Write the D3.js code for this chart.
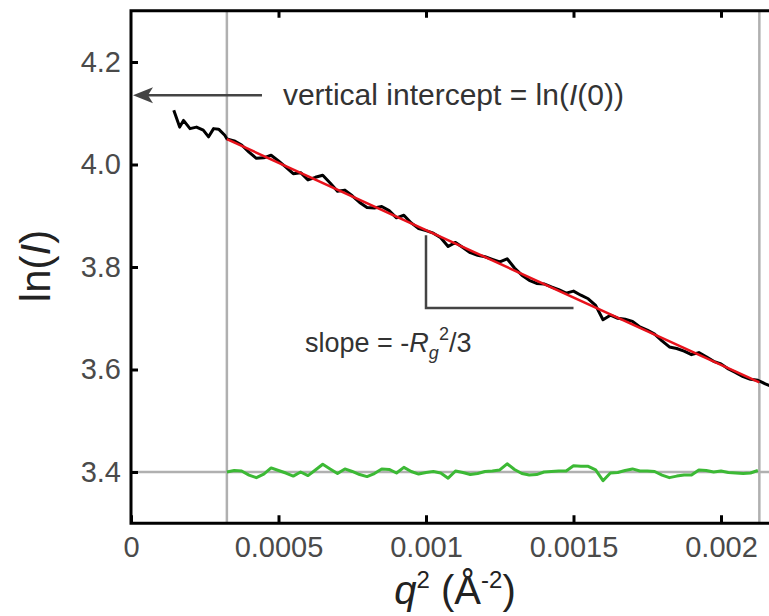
<!DOCTYPE html>
<html>
<head>
<meta charset="utf-8">
<script src="https://cdn.jsdelivr.net/npm/d3@7"></script>
<style>
  body { margin: 0; background: #fff; }
  text { font-family: "Liberation Sans", Arial, sans-serif; }
</style>
</head>
<body>
<svg class="guinier" width="769" height="616"></svg>
<script>
// data
var xTicks = [0, 0.0005, 0.001, 0.0015, 0.002];
var xTickLabels = ["0", "0.0005", "0.001", "0.0015", "0.002"];
var yTicks = [3.4, 3.6, 3.8, 4.0, 4.2];
var yTickLabels = ["3.4", "3.6", "3.8", "4.0", "4.2"];

// measured curve ln(I) vs q^2
var dataQ2 = [0.000145, 0.000165, 0.000178, 0.000200, 0.000222, 0.000245, 0.000263, 0.000280, 0.000297, 0.000318,
  0.000325, 0.000350, 0.000375, 0.000400, 0.000425, 0.000450, 0.000475, 0.000500, 0.000525, 0.000550,
  0.000575, 0.000600, 0.000625, 0.000650, 0.000675, 0.000700, 0.000725, 0.000750, 0.000775, 0.000800,
  0.000825, 0.000850, 0.000875, 0.000900, 0.000925, 0.000950, 0.000975, 0.001000, 0.001025, 0.001050,
  0.001075, 0.001100, 0.001125, 0.001150, 0.001175, 0.001200, 0.001225, 0.001250, 0.001275, 0.001300,
  0.001325, 0.001350, 0.001375, 0.001400, 0.001425, 0.001450, 0.001475, 0.001500, 0.001525, 0.001550,
  0.001575, 0.001600, 0.001625, 0.001650, 0.001675, 0.001700, 0.001725, 0.001750, 0.001775, 0.001800,
  0.001825, 0.001850, 0.001875, 0.001900, 0.001925, 0.001950, 0.001975, 0.002000, 0.002025, 0.002050,
  0.002075, 0.002100, 0.002125, 0.002150, 0.002175];
var dataLnI = [4.106, 4.073, 4.086, 4.070, 4.073, 4.067, 4.054, 4.070, 4.069, 4.057,
  4.050, 4.046, 4.038, 4.024, 4.012, 4.013, 4.018, 4.007, 3.995, 3.982,
  3.984, 3.970, 3.975, 3.979, 3.964, 3.948, 3.950, 3.939, 3.926, 3.916,
  3.915, 3.918, 3.910, 3.896, 3.901, 3.886, 3.875, 3.871, 3.866, 3.857,
  3.840, 3.848, 3.838, 3.828, 3.823, 3.820, 3.815, 3.810, 3.816, 3.798,
  3.784, 3.774, 3.768, 3.767, 3.761, 3.756, 3.749, 3.753, 3.745, 3.738,
  3.725, 3.697, 3.706, 3.700, 3.698, 3.694, 3.683, 3.677, 3.669, 3.656,
  3.644, 3.641, 3.636, 3.629, 3.633, 3.625, 3.616, 3.611, 3.601, 3.594,
  3.586, 3.581, 3.579, 3.572, 3.566];

// linear fit over the Guinier range
var fitQ2 = [0.000325, 0.00213];
var fitLnI = [4.0495, 3.5748];
var intercept = 4.135;

// residuals, offset to sit on 3.4
var residQ2 = dataQ2.slice(10, 83);
var residLnI = [3.400, 3.403, 3.402, 3.394, 3.389, 3.396, 3.408, 3.403, 3.398, 3.392,
  3.400, 3.393, 3.404, 3.415, 3.406, 3.397, 3.406, 3.401, 3.395, 3.391,
  3.397, 3.406, 3.405, 3.398, 3.409, 3.401, 3.396, 3.399, 3.401, 3.398,
  3.388, 3.402, 3.399, 3.395, 3.397, 3.401, 3.402, 3.404, 3.416, 3.405,
  3.397, 3.394, 3.395, 3.400, 3.401, 3.402, 3.402, 3.412, 3.411, 3.411,
  3.404, 3.383, 3.398, 3.399, 3.403, 3.406, 3.402, 3.402, 3.401, 3.394,
  3.389, 3.392, 3.394, 3.394, 3.404, 3.403, 3.400, 3.402, 3.399, 3.398,
  3.397, 3.398, 3.403];

var svg = d3.select(".guinier");

var x = d3.scaleLinear()
    .domain([0, 0.002])
    .range([131, 721]);

var y = d3.scaleLinear()
    .domain([3.4, 4.2])
    .range([472, 62]);

var xMax = 0.0022, yMin = 3.3, yMax = 4.3;

// grey reference lines
svg.append("line")
    .attr("x1", x(0)).attr("x2", x(xMax))
    .attr("y1", y(3.4)).attr("y2", y(3.4))
    .attr("stroke", "#b0b0b0").attr("stroke-width", 2.5);

[fitQ2[0], fitQ2[1]].forEach(function(q) {
  svg.append("line")
      .attr("x1", x(q)).attr("x2", x(q))
      .attr("y1", y(yMax)).attr("y2", y(yMin))
      .attr("stroke", "#b0b0b0").attr("stroke-width", 2.5);
});

// axes
var gLeft = svg.append("g")
    .attr("transform", "translate(" + x(0) + ",0)")
    .call(d3.axisLeft(y).tickValues(yTicks).tickSize(-7).tickPadding(10)
      .tickFormat(function(d, i) { return yTickLabels[i]; }));

var gBottom = svg.append("g")
    .attr("transform", "translate(0," + y(yMin) + ")")
    .call(d3.axisBottom(x).tickValues(xTicks).tickSize(-8).tickPadding(13)
      .tickFormat(function(d, i) { return xTickLabels[i]; }));

var gTop = svg.append("g")
    .attr("transform", "translate(0," + y(yMax) + ")")
    .call(d3.axisTop(x).tickValues(xTicks.slice(1)).tickSize(-7).tickFormat(""));

[gLeft, gBottom, gTop].forEach(function(g) {
  g.select(".domain").remove();
  g.selectAll(".tick line").attr("stroke", "#000").attr("stroke-width", 3);
  g.selectAll(".tick text")
      .attr("font-size", 29)
      .attr("fill", "#4a4a4a")
      .attr("font-family", "'Liberation Sans', Arial, sans-serif");
});

// frame
svg.append("path")
    .attr("fill", "none")
    .attr("stroke", "#000")
    .attr("stroke-width", 3)
    .attr("d", "M" + x(xMax) + "," + y(yMax) + "H" + x(0) + "V" + y(yMin) + "H" + x(xMax));

var line = d3.line()
    .x(function(d) { return x(d[0]); })
    .y(function(d) { return y(d[1]); });

// residuals
svg.append("path")
    .datum(d3.zip(residQ2, residLnI))
    .attr("fill", "none")
    .attr("stroke", "#3cb935")
    .attr("stroke-width", 3)
    .attr("stroke-linejoin", "round")
    .attr("d", line);

// data
svg.append("path")
    .datum(d3.zip(dataQ2, dataLnI))
    .attr("fill", "none")
    .attr("stroke", "#000")
    .attr("stroke-width", 3)
    .attr("stroke-linejoin", "round")
    .attr("d", line);

// fit
svg.append("path")
    .datum(d3.zip(fitQ2, fitLnI))
    .attr("fill", "none")
    .attr("stroke", "#e8121b")
    .attr("stroke-width", 2.5)
    .attr("d", line);

// intercept arrow
svg.append("line")
    .attr("x1", x(0.000444)).attr("x2", x(0.00004))
    .attr("y1", y(intercept)).attr("y2", y(intercept))
    .attr("stroke", "#444").attr("stroke-width", 2.5);

svg.append("path")
    .attr("fill", "#444")
    .attr("d", "M" + (x(0) + 2) + "," + y(intercept) +
      "L" + (x(0) + 22) + "," + (y(intercept) - 8) +
      "L" + (x(0) + 17) + "," + y(intercept) +
      "L" + (x(0) + 22) + "," + (y(intercept) + 8) + "Z");

var t1 = svg.append("text")
    .attr("x", x(0.000515))
    .attr("y", y(intercept) + 10)
    .attr("font-size", 30)
    .attr("fill", "#333");
t1.append("tspan").text("vertical intercept = ln(");
t1.append("tspan").attr("font-style", "italic").text("I");
t1.append("tspan").text("(0))");

// slope triangle
svg.append("path")
    .attr("fill", "none")
    .attr("stroke", "#444")
    .attr("stroke-width", 2.5)
    .attr("d", "M" + x(0.001) + "," + y(3.862) + "V" + y(3.72) + "H" + x(0.0015));

var t2 = svg.append("text")
    .attr("x", x(0.00059))
    .attr("y", y(3.634))
    .attr("font-size", 27)
    .attr("fill", "#333");
t2.append("tspan").text("slope = -");
t2.append("tspan").attr("font-style", "italic").text("R");
t2.append("tspan").attr("font-style", "italic").attr("font-size", 18).attr("dy", 7).text("g");
t2.append("tspan").attr("font-size", 18).attr("dy", -19).text("2");
t2.append("tspan").attr("dy", 12).text("/3");

// axis titles
var xt = svg.append("text")
    .attr("x", 455)
    .attr("y", 604)
    .attr("text-anchor", "middle")
    .attr("font-size", 40)
    .attr("fill", "#222");
xt.append("tspan").attr("font-style", "italic").text("q");
xt.append("tspan").attr("font-size", 24).attr("dy", -16).text("2");
xt.append("tspan").attr("dy", 16).text(" (Å");
xt.append("tspan").attr("font-size", 24).attr("dy", -16).text("-2");
xt.append("tspan").attr("dy", 16).text(")");

var yt = svg.append("text")
    .attr("transform", "translate(50,266) rotate(-90)")
    .attr("text-anchor", "middle")
    .attr("font-size", 42)
    .attr("fill", "#222");
yt.append("tspan").text("ln(");
yt.append("tspan").attr("font-style", "italic").text("I");
yt.append("tspan").text(")");
</script>
</body>
</html>
